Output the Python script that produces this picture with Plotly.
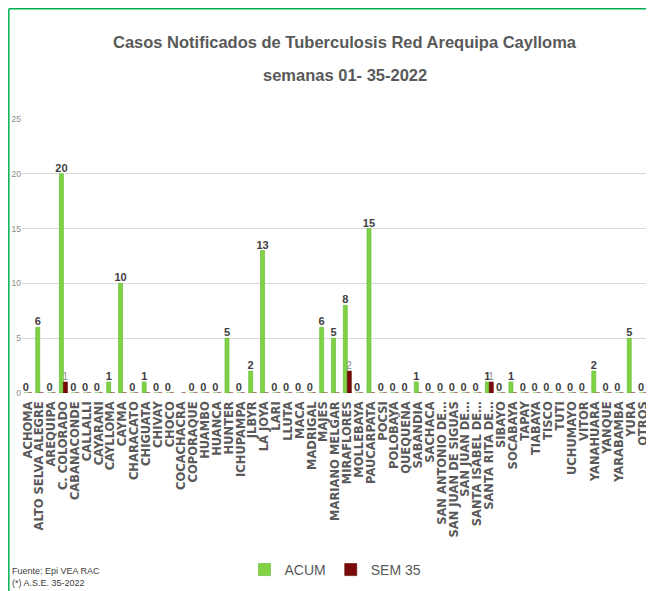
import plotly.graph_objects as go

DISTRITOS = [
    "ACHOMA", "ALTO SELVA ALEGRE", "AREQUIPA", "C. COLORADO", "CABANACONDE",
    "CALLALLI", "CAYARANI", "CAYLLOMA", "CAYMA", "CHARACATO", "CHIGUATA",
    "CHIVAY", "CHOCO", "COCACHACRA", "COPORAQUE", "HUAMBO", "HUANCA", "HUNTER",
    "ICHUPAMPA", "JLBYR", "LA JOYA", "LARI", "LLUTA", "MACA", "MADRIGAL",
    "MAJES", "MARIANO MELGAR", "MIRAFLORES", "MOLLEBAYA", "PAUCARPATA", "POCSI",
    "POLOBAYA", "QUEQUEÑA", "SABANDIA", "SACHACA", "SAN ANTONIO DE…",
    "SAN JUAN DE SIGUAS", "SAN JUAN DE…", "SANTA ISABEL DE…", "SANTA RITA DE…",
    "SIBAYO", "SOCABAYA", "TAPAY", "TIABAYA", "TISCO", "TUTI", "UCHUMAYO",
    "VITOR", "YANAHUARA", "YANQUE", "YARABAMBA", "YURA", "OTROS",
]

ACUM = [
    0, 6, 0, 20, 0, 0, 0, 1, 10, 0, 1, 0, 0, None, 0, 0, 0, 5, 0, 2, 13,
    0, 0, 0, 0, 6, 5, 8, 0, 15, 0, 0, 0, 1, 0, 0, 0, 0, 0, 1, 0, 1,
    0, 0, 0, 0, 0, 0, 2, 0, 0, 5, 0,
]

SEM_35 = [
    0, 0, 0, 1, 0, 0, 0, 0, 0, 0, 0, 0, 0, 0, 0, 0, 0, 0, 0, 0, 0,
    0, 0, 0, 0, 0, 0, 2, 0, 0, 0, 0, 0, 0, 0, 0, 0, 0, 0, 1, 0, 0,
    0, 0, 0, 0, 0, 0, 0, 0, 0, 0, 0,
]

TITULO_1 = "Casos Notificados de Tuberculosis Red Arequipa Caylloma"
TITULO_2 = "semanas 01- 35-2022"
FUENTE = "Fuente: Epi VEA RAC<br>(*) A.S.E. 35-2022"

SANS = "Liberation Sans, Arial, sans-serif"
GREEN = "#00B050"

fig = go.Figure()
fig.add_trace(go.Bar(
    x=DISTRITOS, y=ACUM, name="ACUM",
    marker=dict(color="#80D244", line=dict(color="#5CB82E", width=0.6)),
    text=["" if v is None else str(v) for v in ACUM],
    textposition="outside", cliponaxis=False, constraintext="none",
    textfont=dict(family=SANS, size=11, color="#404040", weight="bold"),
))
fig.add_trace(go.Bar(
    x=DISTRITOS, y=SEM_35, name="SEM 35",
    marker=dict(color="#7A0A0A", line=dict(color="#5A0000", width=0.6)),
    text=[str(v) if v else "" for v in SEM_35],
    textposition="outside", cliponaxis=False, constraintext="none",
    textfont=dict(family=SANS, size=10, color="#8C8C8C"),
))

# page body adds 8px offset, so the figure is a bit smaller than the window
fig.update_layout(
    width=646, height=583,
    barmode="group", bargap=0.32, bargroupgap=0,
    xaxis=dict(
        tickmode="array", tickvals=DISTRITOS, ticktext=DISTRITOS,
        tickangle=-90, showgrid=False, zeroline=False, showline=False, ticks="",
        tickfont=dict(family="DejaVu Sans", size=11.5, color="#595959", weight="bold"),
        ticklabelstandoff=5, automargin=False,
    ),
    yaxis=dict(
        range=[0, 25], dtick=5, showgrid=True, gridcolor="#D9D9D9", gridwidth=1,
        zeroline=False, showline=False, automargin=False,
        tickfont=dict(family=SANS, size=8.5, color="#8C8C8C"),
    ),
    legend=dict(
        orientation="h", x=0.5, xanchor="center", y=-0.646, yanchor="middle",
        font=dict(family=SANS, size=14, color="#595959"),
        itemwidth=30, tracegroupgap=0,
    ),
    plot_bgcolor="white", paper_bgcolor="white",
    margin=dict(l=14, r=5, t=111, b=198),
    showlegend=True,
)

fig.add_annotation(text=TITULO_1, xref="paper", yref="paper", x=0.515, y=1.281,
                   xanchor="center", yanchor="middle", showarrow=False,
                   font=dict(family=SANS, size=16.5, color="#595959", weight="bold"))
fig.add_annotation(text=TITULO_2, xref="paper", yref="paper", x=0.515, y=1.161,
                   xanchor="center", yanchor="middle", showarrow=False,
                   font=dict(family=SANS, size=16.5, color="#595959", weight="bold"))

fig.add_annotation(
    text=FUENTE, xref="paper", yref="paper",
    x=-0.019, y=-0.624, xanchor="left", yanchor="top", align="left", showarrow=False,
    font=dict(family=SANS, size=9, color="#404040"),
)

# green frame
fig.add_shape(type="line", xref="paper", yref="paper", x0=-0.021, x1=1.01,
              y0=1.402, y1=1.402, line=dict(color=GREEN, width=1.5))
fig.add_shape(type="line", xref="paper", yref="paper", x0=-0.021, x1=-0.021,
              y0=1.402, y1=-0.75, line=dict(color=GREEN, width=1.5))

fig.write_html("out.html")
